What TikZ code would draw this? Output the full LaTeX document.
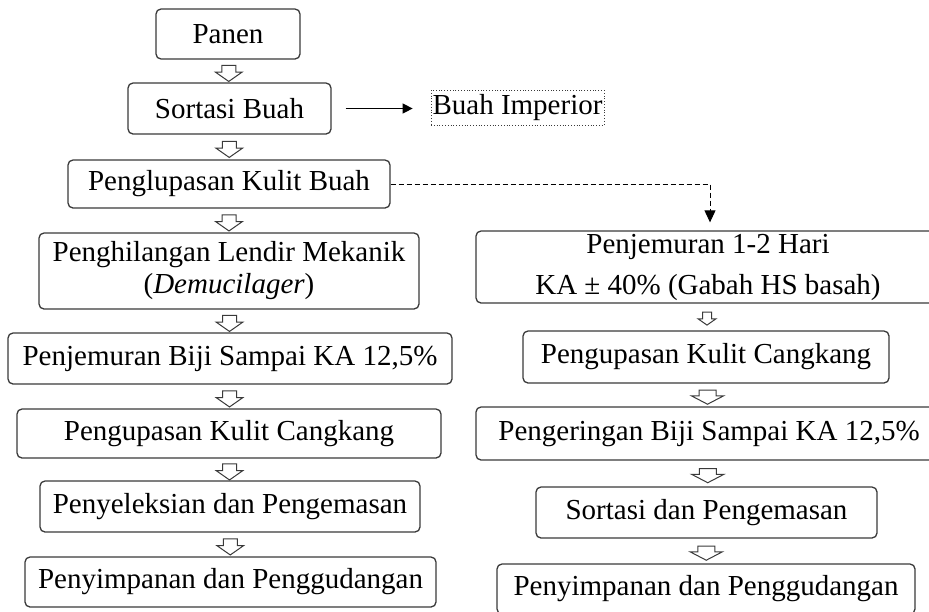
\documentclass[tikz,border=0pt]{standalone}
\usepackage{fontspec}
\setmainfont{Liberation Serif}
\usetikzlibrary{arrows.meta,positioning,calc,shapes.arrows}
\definecolor{edge}{HTML}{3A3A3A}

\begin{document}
\begin{tikzpicture}[
  x=1pt, y=-1pt,
  font=\fontsize{29}{32}\selectfont,
  box/.style 2 args={draw=edge, line width=1.3pt, rounded corners=5pt, fill=white,
              align=center, inner sep=0pt, minimum width=#1pt, minimum height=#2pt},
  imp/.style={draw=edge, dotted, line width=0.8pt, inner sep=1.5pt, minimum height=35pt},
  harrow/.style={single arrow, draw=edge, line width=1pt, fill=white, inner xsep=0pt,
              inner ysep=6.5pt, minimum height=16pt, minimum width=0pt,
              single arrow head extend=6.5pt, single arrow tip angle=110, rotate=-90},
  ar/.style={-{Triangle[length=10pt,width=10pt]}, line width=1.3pt, shorten <=14pt, shorten >=18pt},
  dsh/.style={-{Triangle[length=12pt,width=11pt]}, dash pattern=on 5pt off 3pt, line width=1pt, shorten >=8pt},
]
\useasboundingbox (0,0) rectangle (929,611);

% Left column
\node[box={144}{50}] (panen) at (228,34) {Panen};
\node[box={203}{51}] (sortasi) at (229.5,108.5) {Sortasi Buah};
\node[imp] (imperior) at (517.5,107.5) {Buah Imperior};
\node[box={322}{48}] (kulit) at (229,184) {Penglupasan Kulit Buah};
\node[box={380}{76}] (lendir) at (229,271) {Penghilangan Lendir Mekanik\\(\textit{Demucilager})};
\node[box={444}{51}] (jemur) at (230,358.5) {Penjemuran Biji Sampai KA 12,5\%};
\node[box={424}{49}] (kupasL) at (229,433.5) {Pengupasan Kulit Cangkang};
\node[box={380}{51}] (seleksi) at (230,506.5) {Penyeleksian dan Pengemasan};
\node[box={411}{50}] (simpanL) at (230.5,582) {Penyimpanan dan Penggudangan};
\draw[ar] (sortasi.east) -- (sortasi.east -| imperior.west);

\foreach \a/\b [count=\i] in {panen/sortasi, sortasi/kulit, kulit/lendir, lendir/jemur,
                              jemur/kupasL, kupasL/seleksi, seleksi/simpanL}
  \node[harrow] (hl\i) at ($(\a.south)!0.5!(\b.north)$) {};

% Right column
\node[box={464}{72}] (jemurR) at (708,267) {Penjemuran 1-2 Hari\\[9pt]KA ± 40\% (Gabah HS basah)};
\node[box={366}{52}] (kupasR) at (706,357) {Pengupasan Kulit Cangkang};
\node[box={466}{53}] (keringR) at (709,433.5) {Pengeringan Biji Sampai KA 12,5\%};
\node[box={341}{51}] (sortasiR) at (706.5,512.5) {Sortasi dan Pengemasan};
\node[box={418}{50}] (simpanR) at (706,589) {Penyimpanan dan Penggudangan};
\draw[dsh] (kulit.east) -| ([xshift=2pt]jemurR.north);

\node[harrow, inner ysep=4pt, minimum height=13pt, single arrow head extend=4.5pt] (hr1)
  at ($(jemurR.south)!0.5!(kupasR.north)$) {};
\foreach \a/\b [count=\i from 2] in {kupasR/keringR, keringR/sortasiR, sortasiR/simpanR}
  \node[harrow, inner ysep=8pt, minimum height=14pt, single arrow head extend=7.5pt,
        single arrow tip angle=125] (hr\i) at ($(\a.south)!0.5!(\b.north)$) {};
\end{tikzpicture}
\end{document}
